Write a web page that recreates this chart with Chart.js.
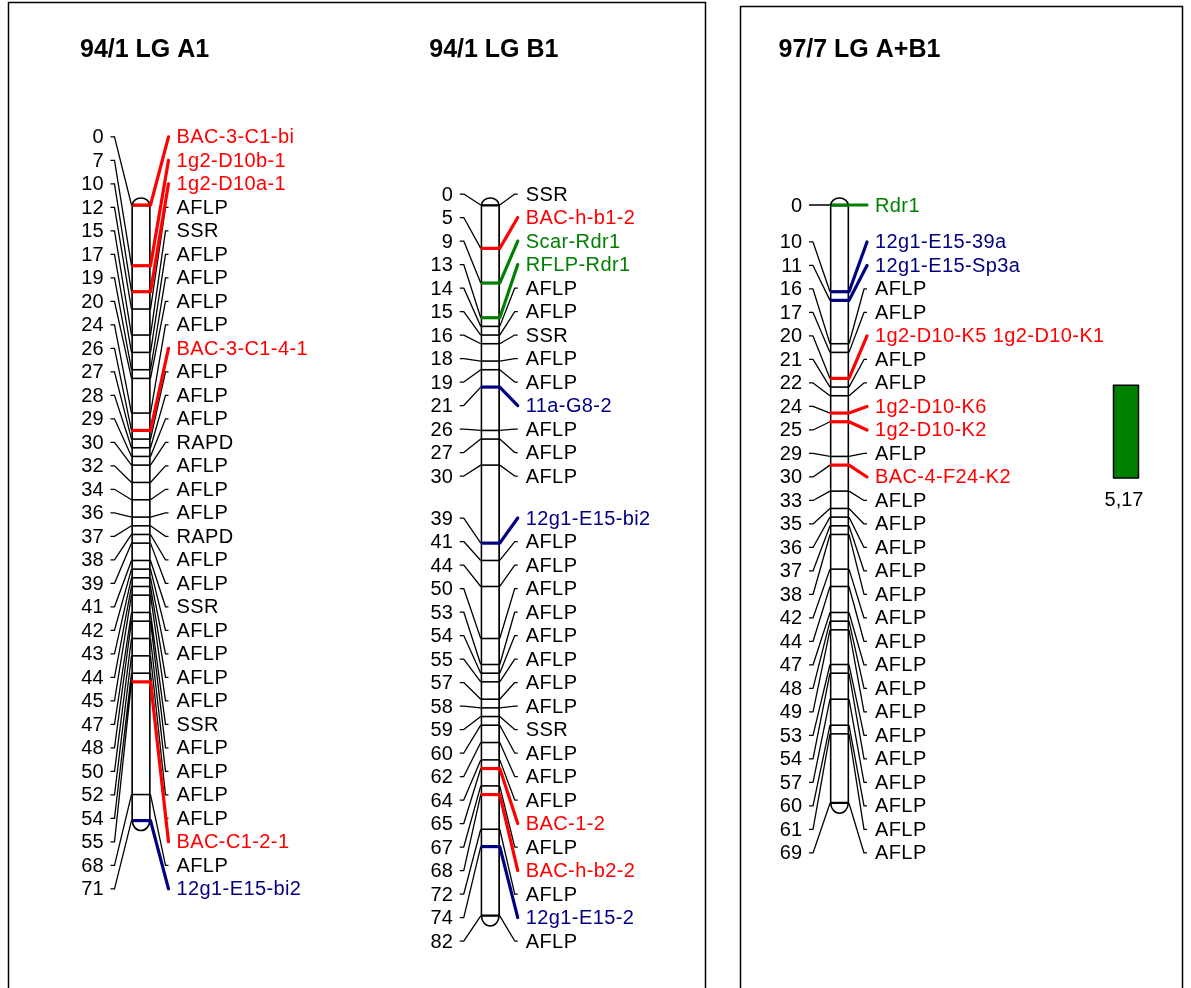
<!DOCTYPE html>
<html>
<head>
<meta charset="utf-8">
<title>Linkage groups</title>
<script src="https://cdn.jsdelivr.net/npm/chart.js@4.4.1/dist/chart.umd.min.js"></script>
<style>
  html, body { margin: 0; padding: 0; background: #fff; }
  #wrap { width: 1191px; height: 988px; }
</style>
</head>
<body>
<div id="wrap"><canvas id="map" width="1191" height="988"></canvas></div>
<script>
// linkage groups (titles)
const groups = ['94/1 LG A1', '94/1 LG B1', '97/7 LG A+B1'];

// 94/1 LG A1 - positions in cM, marker names, highlight class
const a1Pos = [0, 7, 10, 12, 15, 17, 19, 20, 24, 26, 27, 28, 29, 30, 32, 34, 36, 37, 38, 39, 41, 42, 43, 44, 45, 47, 48, 50, 52, 54, 55, 68, 71];
const a1Names = ['BAC-3-C1-bi', '1g2-D10b-1', '1g2-D10a-1', 'AFLP', 'SSR', 'AFLP', 'AFLP', 'AFLP', 'AFLP', 'BAC-3-C1-4-1',
  'AFLP', 'AFLP', 'AFLP', 'RAPD', 'AFLP', 'AFLP', 'AFLP', 'RAPD', 'AFLP', 'AFLP', 'SSR', 'AFLP', 'AFLP', 'AFLP', 'AFLP',
  'SSR', 'AFLP', 'AFLP', 'AFLP', 'AFLP', 'BAC-C1-2-1', 'AFLP', '12g1-E15-bi2'];
const a1Kind = ['clone', 'clone', 'clone', '', '', '', '', '', '', 'clone', '', '', '', '', '', '', '', '', '', '', '', '', '', '', '',
  '', '', '', '', '', 'clone', '', 'est'];

// 94/1 LG B1
const b1Pos = [0, 5, 9, 13, 14, 15, 16, 18, 19, 21, 26, 27, 30, 39, 41, 44, 50, 53, 54, 55, 57, 58, 59, 60, 62, 64, 65, 67, 68, 72, 74, 82];
const b1Names = ['SSR', 'BAC-h-b1-2', 'Scar-Rdr1', 'RFLP-Rdr1', 'AFLP', 'AFLP', 'SSR', 'AFLP', 'AFLP', '11a-G8-2', 'AFLP', 'AFLP',
  'AFLP', '12g1-E15-bi2', 'AFLP', 'AFLP', 'AFLP', 'AFLP', 'AFLP', 'AFLP', 'AFLP', 'AFLP', 'SSR', 'AFLP', 'AFLP', 'AFLP',
  'BAC-1-2', 'AFLP', 'BAC-h-b2-2', 'AFLP', '12g1-E15-2', 'AFLP'];
const b1Kind = ['', 'clone', 'rdr', 'rdr', '', '', '', '', '', 'est', '', '', '', 'est', '', '', '', '', '', '', '', '', '', '', '', '',
  'clone', '', 'clone', '', 'est', ''];

// 97/7 LG A+B1
const ab1Pos = [0, 10, 11, 16, 17, 20, 21, 22, 24, 25, 29, 30, 33, 35, 36, 37, 38, 42, 44, 47, 48, 49, 53, 54, 57, 60, 61, 69];
const ab1Names = ['Rdr1', '12g1-E15-39a', '12g1-E15-Sp3a', 'AFLP', 'AFLP', '1g2-D10-K5 1g2-D10-K1', 'AFLP', 'AFLP', '1g2-D10-K6',
  '1g2-D10-K2', 'AFLP', 'BAC-4-F24-K2', 'AFLP', 'AFLP', 'AFLP', 'AFLP', 'AFLP', 'AFLP', 'AFLP', 'AFLP', 'AFLP', 'AFLP', 'AFLP',
  'AFLP', 'AFLP', 'AFLP', 'AFLP', 'AFLP'];
const ab1Kind = ['rdr', 'est', 'est', '', '', 'clone', '', '', 'clone', 'clone', '', 'clone', '', '', '', '', '', '', '', '', '', '',
  '', '', '', '', '', ''];

// QTL shown next to A+B1
const qtlGroup = 2;
const qtlFrom = 20.8;
const qtlTo = 31.5;
const qtlLod = '5,17';

const groupData = [
  { pos: a1Pos, names: a1Names, kind: a1Kind },
  { pos: b1Pos, names: b1Names, kind: b1Kind },
  { pos: ab1Pos, names: ab1Names, kind: ab1Kind }
];

// estilo
const kindColor = { clone: '#ff0000', est: '#000080', rdr: '#008000' };
const FONT = '"Liberation Sans", Arial, sans-serif';
const look = {
  barWidth: 19,
  labelGap: 23.5,
  numOffset: 28,     // distancia do numero ate a barra
  nameOffset: 26,    // distancia da barra ate o nome
  leftConn: 21,
  rightConn: 18,
  titleOffset: 61,
  qtlOffset: 274,
  qtlWidth: 25
};

// afasta os rotulos para nao sobrepor: junta grupos que se tocam (todos de uma vez)
// e centraliza cada grupo entre a primeira e a ultima marca
function spreadLabels(marks, gap) {
  const startOf = c => c.mid - (c.hi - c.lo) * gap / 2;
  const endOf = c => c.mid + (c.hi - c.lo) * gap / 2;
  let clusters = marks.map((m, i) => ({ lo: i, hi: i, mid: m }));
  let changed = true;
  while (changed) {
    changed = false;
    const merged = [];
    let cur = { lo: clusters[0].lo, hi: clusters[0].hi };
    for (let k = 1; k < clusters.length; k++) {
      if (startOf(clusters[k]) - endOf(clusters[k - 1]) < gap - 0.01) {
        cur.hi = clusters[k].hi;
        changed = true;
      } else {
        merged.push(cur);
        cur = { lo: clusters[k].lo, hi: clusters[k].hi };
      }
    }
    merged.push(cur);
    clusters = merged.map(c => ({ lo: c.lo, hi: c.hi, mid: (marks[c.lo] + marks[c.hi]) / 2 }));
  }
  const out = [];
  clusters.forEach(c => {
    for (let i = c.lo; i <= c.hi; i++) out[i] = c.mid + (i - (c.lo + c.hi) / 2) * gap;
  });
  return out;
}

const linkagePlugin = {
  id: 'linkage',
  beforeDatasetsDraw(chart) {
    const ctx = chart.ctx;
    const xs = chart.scales.x;
    ctx.save();
    // molduras
    ctx.strokeStyle = '#000';
    ctx.lineWidth = 1.5;
    ctx.beginPath();
    ctx.moveTo(8.5, 995); ctx.lineTo(8.5, 2.5); ctx.lineTo(705.5, 2.5); ctx.lineTo(705.5, 995);
    ctx.moveTo(740.5, 995); ctx.lineTo(740.5, 6.5); ctx.lineTo(1182.5, 6.5); ctx.lineTo(1182.5, 995);
    ctx.stroke();
    // titulos
    ctx.fillStyle = '#000';
    ctx.font = 'bold 25px ' + FONT;
    ctx.textAlign = 'left';
    ctx.textBaseline = 'middle';
    groups.forEach((t, gi) => {
      ctx.fillText(t, xs.getPixelForValue(gi) - look.titleOffset, 50);
    });
    ctx.restore();
  },
  afterDatasetsDraw(chart) {
    const ctx = chart.ctx;
    const xs = chart.scales.x, ys = chart.scales.y;
    ctx.save();
    groupData.forEach((g, gi) => {
      const cx = xs.getPixelForValue(gi);
      const barL = cx - look.barWidth / 2, barR = cx + look.barWidth / 2;
      const marks = g.pos.map(p => ys.getPixelForValue(p));
      const labelY = spreadLabels(marks, look.labelGap);
      const top = marks[0], bot = marks[marks.length - 1];

      // pontas arredondadas
      ctx.strokeStyle = '#000';
      ctx.lineWidth = 1.6;
      ctx.beginPath();
      ctx.ellipse(cx, top, look.barWidth / 2 - 0.8, 7, 0, Math.PI, 2 * Math.PI);
      ctx.stroke();
      ctx.beginPath();
      ctx.ellipse(cx, bot, look.barWidth / 2 - 0.8, 10, 0, 0, Math.PI);
      ctx.stroke();

      // ligacoes pretas
      ctx.lineWidth = 1.3;
      ctx.lineCap = 'butt';
      ctx.beginPath();
      marks.forEach((m, i) => {
        const ly = labelY[i];
        ctx.moveTo(barL - look.leftConn, ly);
        ctx.lineTo(barL - look.leftConn + 4, ly);
        ctx.lineTo(barL, m);
        if (!g.kind[i]) {
          ctx.moveTo(barR, m);
          ctx.lineTo(barR + look.rightConn - 3, ly);
          ctx.lineTo(barR + look.rightConn, ly);
        }
      });
      ctx.stroke();

      // ligacoes coloridas
      ctx.lineWidth = 3.2;
      ctx.lineCap = 'round';
      ctx.lineJoin = 'round';
      marks.forEach((m, i) => {
        if (!g.kind[i]) return;
        const ly = labelY[i];
        ctx.strokeStyle = kindColor[g.kind[i]];
        ctx.beginPath();
        ctx.moveTo(barR, m);
        ctx.lineTo(barR + look.rightConn, ly);
        ctx.stroke();
      });

      // textos
      ctx.font = '20px ' + FONT;
      ctx.textBaseline = 'middle';
      marks.forEach((m, i) => {
        const ly = labelY[i] + 1;
        ctx.fillStyle = '#000';
        ctx.textAlign = 'right';
        ctx.letterSpacing = '0px';
        ctx.fillText(String(g.pos[i]), barL - look.numOffset, ly);
        ctx.fillStyle = g.kind[i] ? kindColor[g.kind[i]] : '#000';
        ctx.textAlign = 'left';
        ctx.letterSpacing = '0.4px';
        ctx.fillText(g.names[i], barR + look.nameOffset, ly);
      });
      ctx.letterSpacing = '0px';
    });

    // QTL
    const qx = xs.getPixelForValue(qtlGroup) + look.qtlOffset;
    const qy0 = ys.getPixelForValue(qtlFrom), qy1 = ys.getPixelForValue(qtlTo);
    ctx.fillStyle = '#008000';
    ctx.fillRect(qx, qy0, look.qtlWidth, qy1 - qy0);
    ctx.strokeStyle = '#000';
    ctx.lineWidth = 1.5;
    ctx.strokeRect(qx, qy0, look.qtlWidth, qy1 - qy0);
    ctx.fillStyle = '#000';
    ctx.font = '20px ' + FONT;
    ctx.textAlign = 'center';
    ctx.textBaseline = 'middle';
    ctx.fillText(qtlLod, qx + look.qtlWidth / 2 - 2, qy1 + 22);
    ctx.restore();
  }
};

// pontos das marcas (tracos sobre a barra)
const plainPts = [];
const hiPts = [];
const hiCols = [];
groupData.forEach((g, gi) => {
  g.pos.forEach((p, i) => {
    if (g.kind[i]) {
      hiPts.push({ x: gi, y: p });
      hiCols.push(kindColor[g.kind[i]]);
    } else {
      plainPts.push({ x: gi, y: p });
    }
  });
});

const chart = new Chart(document.getElementById('map'), {
  type: 'bar',
  data: {
    datasets: [
      {
        type: 'scatter',
        label: 'marcas destacadas',
        data: hiPts,
        pointStyle: 'line',
        pointRadius: look.barWidth / 2,
        pointBorderWidth: 3.2,
        pointBorderColor: hiCols,
        clip: false,
        order: 0
      },
      {
        type: 'scatter',
        label: 'marcas',
        data: plainPts,
        pointStyle: 'line',
        pointRadius: look.barWidth / 2,
        pointBorderWidth: 1.6,
        pointBorderColor: '#000',
        clip: false,
        order: 1
      },
      {
        label: 'grupos',
        data: groupData.map((g, gi) => ({ x: gi, y: [Math.min(...g.pos), Math.max(...g.pos)] })),
        backgroundColor: '#fff',
        borderColor: '#000',
        borderWidth: 1.8,
        borderSkipped: false,
        barThickness: look.barWidth,
        clip: false,
        order: 2
      }
    ]
  },
  options: {
    responsive: false,
    animation: false,
    events: [],
    devicePixelRatio: 1,
    layout: { autoPadding: false, padding: { left: 141, right: 351.5, top: 205, bottom: 2.7 } },
    plugins: { legend: { display: false }, title: { display: false }, tooltip: { enabled: false } },
    scales: {
      x: { type: 'linear', min: 0, max: 2, offset: false, display: false },
      y: { type: 'linear', min: 0, max: 90, reverse: true, display: false }
    }
  },
  plugins: [linkagePlugin]
});
</script>
</body>
</html>
